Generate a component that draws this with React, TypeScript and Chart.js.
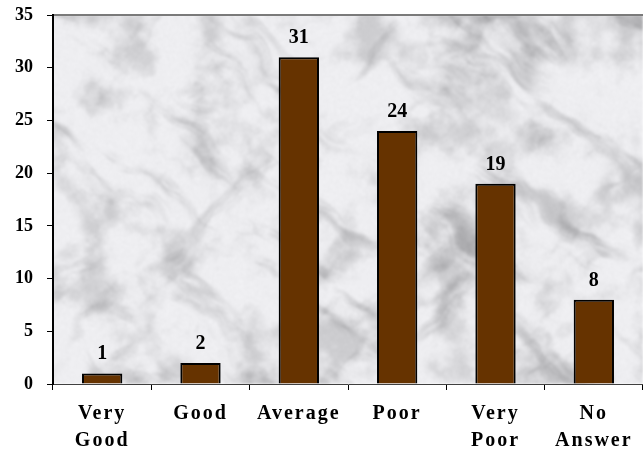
import React, { useEffect, useRef } from "react";
import { Chart, registerables } from "chart.js";

Chart.register(...registerables);

const categories: string[][] = [["Very", "Good"], ["Good"], ["Average"], ["Poor"], ["Very", "Poor"], ["No", "Answer"]];
const counts: number[] = [1, 2, 31, 24, 19, 8];
const yTicks = { min: 0, max: 35, step: 5 };

const SERIF = "'Liberation Serif', 'Times New Roman', serif";

function hash(x: number, y: number, seed: number): number {
  let h = Math.imul(x | 0, 374761393) ^ Math.imul(y | 0, 668265263) ^ Math.imul(seed, 2147483647);
  h = Math.imul(h ^ (h >>> 13), 1274126177);
  h = h ^ (h >>> 16);
  return (h >>> 0) / 4294967295;
}

function valueNoise(x: number, y: number, seed: number): number {
  const xi = Math.floor(x), yi = Math.floor(y);
  const xf = x - xi, yf = y - yi;
  const u = xf * xf * (3 - 2 * xf), v = yf * yf * (3 - 2 * yf);
  const a = hash(xi, yi, seed), b = hash(xi + 1, yi, seed);
  const c = hash(xi, yi + 1, seed), d = hash(xi + 1, yi + 1, seed);
  return a + (b - a) * u + (c - a) * v + (a - b - c + d) * u * v;
}

function fbm(x: number, y: number, seed: number, oct: number): number {
  let s = 0, amp = 0.5, f = 1, tot = 0;
  for (let i = 0; i < oct; i++) {
    s += amp * valueNoise(x * f, y * f, seed + i * 17);
    tot += amp;
    amp *= 0.55;
    f *= 2.03;
  }
  return s / tot;
}

function smooth(a: number, b: number, x: number): number {
  const t = Math.max(0, Math.min(1, (x - a) / (b - a)));
  return t * t * (3 - 2 * t);
}

let marbleCache: HTMLCanvasElement | null = null;
function makeMarble(w: number, h: number): HTMLCanvasElement {
  if (marbleCache && marbleCache.width === w && marbleCache.height === h) return marbleCache;
  const raw = document.createElement("canvas");
  raw.width = w;
  raw.height = h;
  const rctx = raw.getContext("2d")!;
  const img = rctx.createImageData(w, h);
  const ang = -0.6;
  const ca = Math.cos(ang), sa = Math.sin(ang);
  const ang2 = 0.7;
  const cb = Math.cos(ang2), sb = Math.sin(ang2);
  for (let y = 0; y < h; y++) {
    for (let x = 0; x < w; x++) {
      const u = x * ca - y * sa, v = x * sa + y * ca;
      const u2 = x * cb - y * sb, v2 = x * sb + y * cb;
      const warp = fbm(x / 60, y / 60, 5, 3) * 40;
      const s1 = fbm((u + warp) / 100, (v + warp) / 26, 41, 5);
      const s2 = fbm((u2 + warp) / 80, (v2 - warp) / 24, 77, 5);
      const cloud = fbm(x / 40, y / 40, 13, 5);
      let g = 238;
      g -= 42 * smooth(0.55, 0.85, s1);
      g -= 30 * smooth(0.58, 0.88, s2);
      g -= 34 * smooth(0.45, 0.8, cloud);
      g += (hash(x, y, 99) - 0.5) * 10;
      g = Math.max(150, Math.min(246, g));
      const i = (y * w + x) * 4;
      img.data[i] = g;
      img.data[i + 1] = g;
      img.data[i + 2] = g + 3;
      img.data[i + 3] = 255;
    }
  }
  rctx.putImageData(img, 0, 0);
  const c = document.createElement("canvas");
  c.width = w;
  c.height = h;
  const ctx = c.getContext("2d")!;
  ctx.filter = "blur(0.8px)";
  ctx.drawImage(raw, 0, 0);
  marbleCache = c;
  return c;
}

const decorPlugin = {
  id: "decor",
  beforeDraw(chart: any) {
    const { ctx, chartArea } = chart;
    const w = Math.round(chartArea.right - chartArea.left);
    const h = Math.round(chartArea.bottom - chartArea.top);
    const m = makeMarble(w, h);
    ctx.save();
    ctx.drawImage(m, chartArea.left, chartArea.top);
    ctx.strokeStyle = "#7a7a7a";
    ctx.lineWidth = 2;
    ctx.beginPath();
    ctx.moveTo(chartArea.left, chartArea.top);
    ctx.lineTo(chartArea.right, chartArea.top);
    ctx.stroke();
    ctx.restore();
  },
  afterDatasetsDraw(chart: any) {
    const { ctx } = chart;
    const meta = chart.getDatasetMeta(0);
    ctx.save();
    ctx.font = `bold 20px ${SERIF}`;
    ctx.fillStyle = "#000";
    ctx.textAlign = "center";
    ctx.textBaseline = "alphabetic";
    meta.data.forEach((bar: any, i: number) => {
      ctx.fillText(String(chart.data.datasets[0].data[i]), bar.x, bar.y - 14);
    });
    ctx.restore();
    (ctx as any).letterSpacing = "2px";
  },
  afterDraw(chart: any) {
    (chart.ctx as any).letterSpacing = "0px";
  },
};

export default function App() {
  const ref = useRef<HTMLCanvasElement>(null);
  useEffect(() => {
    document.body.style.margin = "0";
    const chart = new Chart(ref.current!, {
      type: "bar",
      data: {
        labels: categories,
        datasets: [
          {
            data: counts,
            backgroundColor: "#663300",
            borderColor: "#000000",
            borderWidth: 2,
            borderSkipped: "bottom",
            categoryPercentage: 1,
            barPercentage: 0.41,
          },
        ],
      },
      options: {
        animation: false,
        responsive: false,
        layout: { padding: { top: 15, right: 0, bottom: 0, left: 0 } },
        plugins: { legend: { display: false }, tooltip: { enabled: false } },
        scales: {
          x: {
            grid: { drawOnChartArea: false, drawTicks: true, tickLength: 6, color: "#000" },
            border: { color: "#404040", width: 1 },
            ticks: {
              z: 1,
              color: "#000",
              font: { family: SERIF, size: 20, weight: "bold", lineHeight: "27px" },
              padding: 10,
              maxRotation: 0,
              autoSkip: false,
            },
            afterFit(scale: any) {
              scale.height = 68;
              scale.paddingLeft = 0;
              scale.paddingRight = 0;
            },
          },
          y: {
            min: yTicks.min,
            max: yTicks.max,
            grid: { drawOnChartArea: false, drawTicks: true, tickLength: 6, color: "#000" },
            border: { color: "#000", width: 2 },
            ticks: {
              stepSize: yTicks.step,
              color: "#000",
              font: { family: SERIF, size: 18, weight: "bold" },
              padding: 14,
            },
            afterFit(scale: any) {
              scale.width = 53;
              scale.paddingTop = 0;
              scale.paddingBottom = 0;
            },
          },
        },
      },
      plugins: [decorPlugin],
    });
    return () => chart.destroy();
  }, []);
  return <canvas ref={ref} width={643} height={452} style={{ display: "block" }} />;
}
